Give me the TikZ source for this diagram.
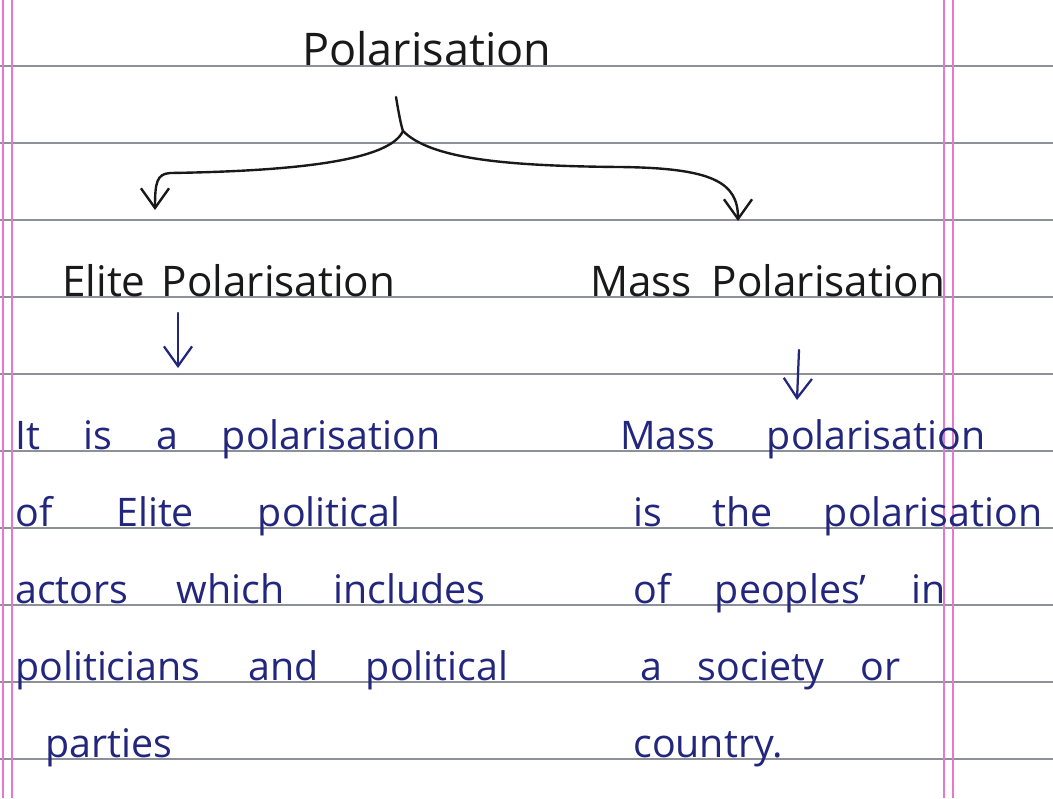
\documentclass[tikz,border=0pt]{standalone}
\usepackage{fontspec}
\setmainfont{Open Sans}
\usetikzlibrary{arrows.meta}
\definecolor{inkblue}{RGB}{35,38,125}
\definecolor{inkblack}{RGB}{25,25,25}
\definecolor{ruling}{RGB}{140,144,152}
\definecolor{margin}{RGB}{232,120,205}
\newlength\pxu \setlength\pxu{0.025cm}
\newcommand{\spreadto}[2]{\makebox[#1\pxu][s]{#2}}

\begin{document}
\begin{tikzpicture}[x=0.025cm,y=-0.025cm,
  rule/.style={ruling,line width=0.8pt},
  marg/.style={margin,line width=0.8pt},
  pen/.style={inkblack,line width=1.7pt,line cap=round},
  bpen/.style={inkblue,line width=1.6pt,line cap=round},
  tip/.style={-{Straight Barb[length=14pt,width=20pt]}},
  head/.style={inkblack,anchor=base west,inner sep=0pt,font=\fontsize{30}{32}\selectfont},
  body/.style={inkblue,anchor=base west,inner sep=0pt,font=\fontsize{28}{30}\selectfont},
]
  \fill[white] (0,0) rectangle (1053,798);
  \useasboundingbox (0,0) rectangle (1053,798);

  % ruled paper
  \foreach \y in {66,143,...,759}
    \draw[rule] (0,\y) -- (1053,\y);
  \foreach \x in {3,12,944,953}
    \draw[marg] (\x,0) -- (\x,798);

  % headings
  \node[head,font=\fontsize{32}{34}\selectfont] (title) at (302,65) {Polarisation};
  \node[head] (elite) at (62,296) {\spreadto{333}{Elite Polarisation}};
  \node[head] (mass) at (590,296) {\spreadto{355}{Mass Polarisation}};

  % the split
  \coordinate (top) at (396,97);
  \coordinate (fork) at (403,131);
  \coordinate (etip) at (155,210);
  \coordinate (mtip) at (738,221);
  \draw[pen] (top) .. controls (399,115) and (401,125) .. (fork);
  \draw[pen,tip] (fork) .. controls (390,160) and (300,171) .. (170,173)
    .. controls (157,174) and (155,182) .. (etip);
  \draw[pen,tip] (fork) .. controls (430,158) and (500,166) .. (620,167)
    .. controls (712,168) and (738,182) .. (mtip);

  \coordinate (ea) at (178,313);
  \coordinate (eb) at (178,368);
  \coordinate (ma) at (799,350);
  \coordinate (mb) at (797,400);
  \draw[bpen,tip] (ea) -- (eb);
  \draw[bpen,tip] (ma) -- (mb);

  % definitions
  \foreach \x/\y/\w/\t [count=\i] in {
    15/449/425/It is a polarisation,
    15/526/385/of Elite political,
    15/603/470/actors which includes,
    15/680/493/politicians and political}
    \node[body] (left\i) at (\x,\y) {\spreadto{\w}{\t}};
  \node[body] (left5) at (45,757) {parties};

  \foreach \x/\y/\w/\t [count=\i] in {
    620/449/365/Mass polarisation,
    633/526/409/is the polarisation,
    633/603/312/of peoples' in,
    640/680/260/a society or}
    \node[body] (right\i) at (\x,\y) {\spreadto{\w}{\t}};
  \node[body] (right5) at (633,757) {country.};
\end{tikzpicture}
\end{document}
